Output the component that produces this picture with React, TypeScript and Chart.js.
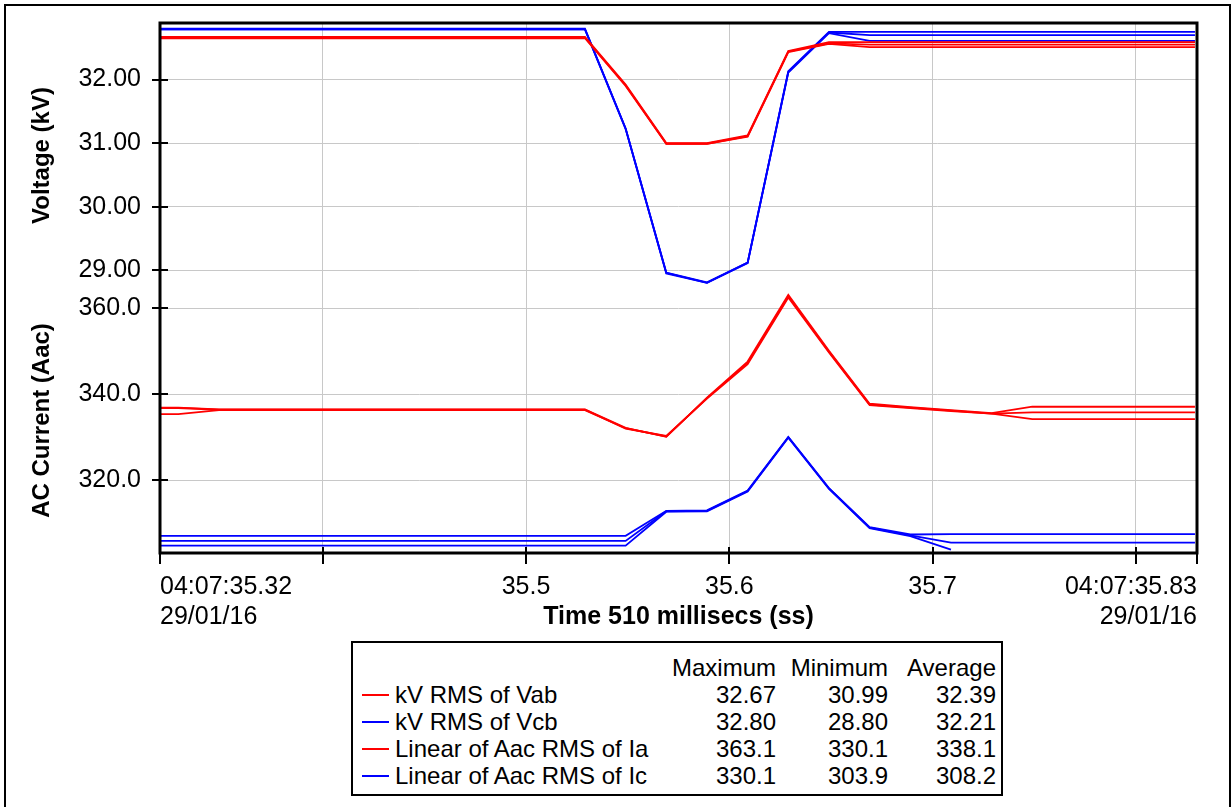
import { useEffect, useRef } from 'react';
import { Chart, registerables } from 'chart.js';

Chart.register(...registerables);

// Sample instants (seconds within 04:07), one RMS value every 20 ms
const sampleTimes = [
  35.309, 35.329, 35.349, 35.369, 35.389, 35.409, 35.429, 35.449, 35.469,
  35.489, 35.509, 35.529, 35.549, 35.569, 35.589, 35.609, 35.629, 35.649,
  35.669, 35.689, 35.709, 35.729, 35.749, 35.769, 35.789, 35.809, 35.829,
];

// kV RMS of Vab (three traces)
const vabA = [
  32.67, 32.67, 32.67, 32.67, 32.67, 32.67, 32.67, 32.67, 32.67, 32.67, 32.67, 32.67,
  31.92, 31.0, 31.0, 31.12, 32.45, 32.59,
  32.59, 32.59, 32.59, 32.59, 32.59, 32.59, 32.59, 32.59, 32.59,
];
const vabB = [
  32.66, 32.66, 32.66, 32.66, 32.66, 32.66, 32.66, 32.66, 32.66, 32.66, 32.66, 32.66,
  31.91, 30.99, 30.99, 31.11, 32.44, 32.57,
  32.55, 32.55, 32.55, 32.55, 32.55, 32.55, 32.55, 32.55, 32.55,
];
const vabC = [
  32.65, 32.65, 32.65, 32.65, 32.65, 32.65, 32.65, 32.65, 32.65, 32.65, 32.65, 32.65,
  31.9, 30.99, 30.99, 31.1, 32.43, 32.56,
  32.51, 32.51, 32.51, 32.51, 32.51, 32.51, 32.51, 32.51, 32.51,
];

// kV RMS of Vcb (three traces)
const vcbA = [
  32.8, 32.8, 32.8, 32.8, 32.8, 32.8, 32.8, 32.8, 32.8, 32.8, 32.8, 32.8,
  31.23, 28.96, 28.8, 29.12, 32.13, 32.75,
  32.75, 32.75, 32.75, 32.75, 32.75, 32.75, 32.75, 32.75, 32.75,
];
const vcbB = [
  32.79, 32.79, 32.79, 32.79, 32.79, 32.79, 32.79, 32.79, 32.79, 32.79, 32.79, 32.79,
  31.23, 28.96, 28.81, 29.12, 32.12, 32.74,
  32.7, 32.7, 32.7, 32.7, 32.7, 32.7, 32.7, 32.7, 32.7,
];
const vcbC = [
  32.79, 32.79, 32.79, 32.79, 32.79, 32.79, 32.79, 32.79, 32.79, 32.79, 32.79, 32.79,
  31.22, 28.95, 28.8, 29.11, 32.11, 32.73,
  32.61, 32.61, 32.61, 32.61, 32.61, 32.61, 32.61, 32.61, 32.61,
];

// Linear of Aac RMS of Ia (three traces)
const iaA = [
  336.9, 336.9,
  336.5, 336.5, 336.5, 336.5, 336.5, 336.5, 336.5, 336.5, 336.5, 336.5,
  332.2, 330.1, 339.2, 347.6, 363.1, 350.1, 337.8, 337.0, 336.3, 335.6,
  337.1, 337.1, 337.1, 337.1, 337.1,
];
const iaB = [
  335.4, 335.4,
  336.3, 336.3, 336.3, 336.3, 336.3, 336.3, 336.3, 336.3, 336.3, 336.3,
  332.1, 330.2, 339.1, 347.3, 362.8, 349.9, 337.6, 336.9, 336.2, 335.5,
  335.8, 335.8, 335.8, 335.8, 335.8,
];
const iaC = [
  336.8, 336.8,
  336.4, 336.4, 336.4, 336.4, 336.4, 336.4, 336.4, 336.4, 336.4, 336.4,
  332.0, 330.3, 339.0, 347.0, 362.5, 349.7, 337.5, 336.8, 336.1, 335.5,
  334.2, 334.2, 334.2, 334.2, 334.2,
];

// Linear of Aac RMS of Ic (three traces, the third stops early)
const icA = [
  307.1, 307.1, 307.1, 307.1, 307.1, 307.1, 307.1, 307.1, 307.1, 307.1, 307.1, 307.1, 307.1,
  312.9, 313.0, 317.6, 330.1, 318.2, 309.1, 307.4,
  307.5, 307.5, 307.5, 307.5, 307.5, 307.5, 307.5,
];
const icB = [
  305.9, 305.9, 305.9, 305.9, 305.9, 305.9, 305.9, 305.9, 305.9, 305.9, 305.9, 305.9, 305.9,
  312.8, 312.9, 317.5, 330.0, 318.1, 309.0, 307.2,
  305.5, 305.5, 305.5, 305.5, 305.5, 305.5, 305.5,
];
const icC = [
  304.8, 304.8, 304.8, 304.8, 304.8, 304.8, 304.8, 304.8, 304.8, 304.8, 304.8, 304.8, 304.8,
  312.7, 312.8, 317.4, 329.9, 318.0, 308.9, 307.0,
  303.9, null, null, null, null, null, null,
];

// Axis ticks
const voltTicks = [29, 30, 31, 32];
const currTicks = [320, 340, 360];
const timeTicks = [35.32, 35.4, 35.5, 35.6, 35.7, 35.8, 35.83];
const timeTickLabels: (string | string[])[] = [
  ['04:07:35.32', '29/01/16'],
  '',
  '35.5',
  '35.6',
  '35.7',
  '',
  ['04:07:35.83', '29/01/16'],
];

// Summary table
const legendNames = ['kV RMS of Vab', 'kV RMS of Vcb', 'Linear of Aac RMS of Ia', 'Linear of Aac RMS of Ic'];
const legendColors = ['#ff0000', '#0000ff', '#ff0000', '#0000ff'];
const legendMax = ['32.67', '32.80', '363.1', '330.1'];
const legendMin = ['30.99', '28.80', '330.1', '303.9'];
const legendAvg = ['32.39', '32.21', '338.1', '308.2'];

const RED = '#ff0000';
const BLUE = '#0000ff';
const GRID = '#c8c8c8';
const FAMILY = '"Liberation Sans", Arial, sans-serif';

const toPoints = (ys: (number | null)[]) => sampleTimes.map((t, i) => ({ x: t, y: ys[i] }));

const line = (data: (number | null)[], color: string, axis: string) => ({
  data: toPoints(data),
  borderColor: color,
  backgroundColor: color,
  borderWidth: 1.8,
  pointRadius: 0,
  tension: 0,
  fill: false,
  spanGaps: false,
  yAxisID: axis,
});

// Fixed axis sizes so the plot area sits at a known place
const fitY = (s: any) => {
  s.width = 160;
  s.paddingTop = 0;
  s.paddingBottom = 0;
};
const fitX = (s: any) => {
  s.height = 87;
  s.paddingLeft = 0;
  s.paddingRight = 0;
};

// Black border around the plot and cross-shaped tick marks on both axes
const framePlugin = {
  id: 'plotFrame',
  afterDraw(chart: any) {
    const { ctx, chartArea: a, scales } = chart;
    ctx.save();
    ctx.strokeStyle = '#000';
    ctx.lineWidth = 2;
    ctx.beginPath();
    for (const id of ['yV', 'yI']) {
      const s = scales[id];
      s.ticks.forEach((t: any) => {
        const y = Math.round(s.getPixelForValue(t.value));
        ctx.moveTo(a.left - 8, y);
        ctx.lineTo(a.left + 8, y);
      });
    }
    const sx = scales.x;
    sx.ticks.forEach((t: any) => {
      const x = Math.round(sx.getPixelForValue(t.value));
      ctx.moveTo(x, a.bottom - 6);
      ctx.lineTo(x, a.bottom + 11);
    });
    ctx.stroke();
    ctx.lineWidth = 3;
    ctx.strokeRect(a.left, a.top, a.right - a.left, a.bottom - a.top);
    ctx.restore();
  },
};

function PowerChart() {
  const canvasRef = useRef<HTMLCanvasElement | null>(null);

  useEffect(() => {
    const canvas = canvasRef.current;
    if (!canvas) return;
    const tickFont = { family: FAMILY, size: 25 };
    const titleFont = { family: FAMILY, size: 24, weight: 'bold' as const };

    const chart = new Chart(canvas, {
      type: 'line',
      data: {
        datasets: [
          line(vabA, RED, 'yV'),
          line(vabB, RED, 'yV'),
          line(vabC, RED, 'yV'),
          line(vcbA, BLUE, 'yV'),
          line(vcbB, BLUE, 'yV'),
          line(vcbC, BLUE, 'yV'),
          line(iaA, RED, 'yI'),
          line(iaB, RED, 'yI'),
          line(iaC, RED, 'yI'),
          line(icA, BLUE, 'yI'),
          line(icB, BLUE, 'yI'),
          line(icC, BLUE, 'yI'),
        ] as any,
      },
      options: {
        responsive: false,
        maintainAspectRatio: false,
        animation: false,
        events: [],
        layout: { padding: { left: 0, top: 23, right: 35, bottom: 0 } },
        plugins: {
          legend: { display: false },
          tooltip: { enabled: false },
        },
        scales: {
          x: {
            type: 'linear',
            min: 35.32,
            max: 35.83,
            afterBuildTicks: (s: any) => {
              s.ticks = timeTicks.map((v) => ({ value: v }));
            },
            afterFit: fitX,
            ticks: {
              autoSkip: false,
              maxRotation: 0,
              minRotation: 0,
              align: 'inner',
              padding: 19,
              color: '#000',
              font: tickFont,
              callback: (_v: any, i: number) => timeTickLabels[i],
            },
            grid: { color: GRID, lineWidth: 1, drawTicks: false },
            border: { display: false },
            title: {
              display: true,
              text: 'Time 510 millisecs (ss)',
              color: '#000',
              font: { family: FAMILY, size: 25, weight: 'bold' },
              padding: { top: 0, bottom: 8 },
            },
          },
          yI: {
            type: 'linear',
            position: 'left',
            stack: 'panes',
            stackWeight: 1,
            min: 303.1,
            max: 364.7,
            afterBuildTicks: (s: any) => {
              s.ticks = currTicks.map((v) => ({ value: v }));
            },
            afterFit: fitY,
            ticks: {
              padding: 19,
              color: '#000',
              font: tickFont,
              callback: (v: any) => Number(v).toFixed(1),
            },
            grid: { color: GRID, lineWidth: 1, drawTicks: false },
            border: { display: false },
            title: {
              display: true,
              text: 'AC Current (Aac)',
              color: '#000',
              font: titleFont,
              padding: { top: 28, bottom: 0 },
            },
          },
          yV: {
            type: 'linear',
            position: 'left',
            stack: 'panes',
            stackWeight: 1,
            min: 28.72,
            max: 32.89,
            afterBuildTicks: (s: any) => {
              s.ticks = voltTicks.map((v) => ({ value: v }));
            },
            afterFit: fitY,
            ticks: {
              padding: 19,
              color: '#000',
              font: tickFont,
              callback: (v: any) => Number(v).toFixed(2),
            },
            grid: { color: GRID, lineWidth: 1, drawTicks: false },
            border: { display: false },
            title: {
              display: true,
              text: 'Voltage (kV)',
              color: '#000',
              font: titleFont,
              padding: { top: 28, bottom: 0 },
            },
          },
        },
      } as any,
      plugins: [framePlugin],
    });
    return () => chart.destroy();
  }, []);

  return (
    <canvas
      ref={canvasRef}
      width={1232}
      height={640}
      style={{ position: 'absolute', left: 0, top: 0, width: 1232, height: 640, display: 'block' }}
    />
  );
}

function SummaryTable() {
  const rowTop = 13;
  const rowH = 27;
  const cols = [
    { right: 425, head: 'Maximum', vals: legendMax },
    { right: 537, head: 'Minimum', vals: legendMin },
    { right: 645, head: 'Average', vals: legendAvg },
  ];
  const cell = (text: string, right: number, top: number, key: string) => (
    <div
      key={key}
      style={{
        position: 'absolute',
        left: right - 130,
        width: 130,
        top,
        height: rowH,
        lineHeight: `${rowH}px`,
        textAlign: 'right',
        whiteSpace: 'nowrap',
      }}
    >
      {text}
    </div>
  );
  return (
    <div
      style={{
        position: 'absolute',
        left: 351,
        top: 641,
        width: 652,
        height: 155,
        border: '2px solid #000',
        boxSizing: 'border-box',
        background: '#fff',
        fontFamily: FAMILY,
        fontSize: 24,
        color: '#000',
      }}
    >
      {cols.map((c, ci) => cell(c.head, c.right - 2, rowTop - 2, `h${ci}`))}
      {legendNames.map((name, r) => {
        const top = rowTop - 2 + rowH * (r + 1);
        return (
          <div key={name}>
            <div
              style={{
                position: 'absolute',
                left: 9,
                top: top + rowH / 2 - 1,
                width: 27,
                height: 2,
                background: legendColors[r],
              }}
            />
            <div
              style={{
                position: 'absolute',
                left: 42,
                top,
                height: rowH,
                lineHeight: `${rowH}px`,
                whiteSpace: 'nowrap',
              }}
            >
              {name}
            </div>
            {cols.map((c, ci) => cell(c.vals[r], c.right - 2, top, `v${r}-${ci}`))}
          </div>
        );
      })}
    </div>
  );
}

export default function App() {
  return (
    <div
      style={{
        position: 'absolute',
        left: 0,
        top: 0,
        width: 1232,
        height: 807,
        overflow: 'hidden',
        background: '#fff',
      }}
    >
      <div
        style={{
          position: 'absolute',
          left: 4,
          top: 4,
          width: 1227,
          height: 830,
          border: '2px solid #000',
          boxSizing: 'border-box',
        }}
      />
      <PowerChart />
      <SummaryTable />
    </div>
  );
}
